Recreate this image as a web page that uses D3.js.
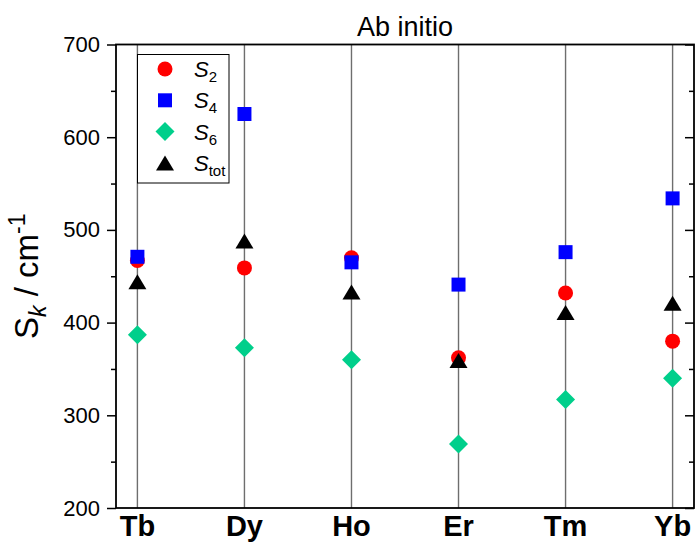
<!DOCTYPE html>
<html>
<head>
<meta charset="utf-8">
<script src="https://cdn.jsdelivr.net/npm/d3@7"></script>
<style>
  body { margin: 0; background: #fff; }
  text { font-family: "Liberation Sans", Arial, sans-serif; fill: #000; }
</style>
</head>
<body>
<svg id="chart" width="699" height="545"></svg>
<script>
"use strict";

// Values
const elements = ["Tb", "Dy", "Ho", "Er", "Tm", "Yb"];
const s2 = [467, 459, 470, 362, 432, 380];
const s4 = [471, 625, 465, 441, 476, 534];
const s6 = [387, 373, 360, 269, 317, 340];
const stot = [444, 488, 433, 359, 411, 421];
const majorTicks = [200, 300, 400, 500, 600, 700];
const minorTicks = [250, 350, 450, 550, 650];

const series = [
  {sub: "2", values: s2, color: "#ff0000", shape: "circle"},
  {sub: "4", values: s4, color: "#0000ff", shape: "square"},
  {sub: "6", values: s6, color: "#00cf8b", shape: "diamond"},
  {sub: "tot", values: stot, color: "#000000", shape: "triangle"}
];

const plotLeft = 116, plotRight = 694, plotTop = 44.5, plotBottom = 508;

const x = d3.scaleLinear().domain([-0.2, elements.length - 0.8]).range([plotLeft, plotRight]);
const y = d3.scaleLinear().domain([200, 700]).range([plotBottom, plotTop]);

const svg = d3.select("#chart");

function shapePath(shape) {
  switch (shape) {
  case "circle": {
    const p = d3.path();
    p.arc(0, 0, 7.5, 0, 2 * Math.PI);
    return p.toString();
  }
  case "square":
    return "M-7,-7H7V7H-7Z";
  case "diamond":
    return "M0,-9.5L9.5,0L0,9.5L-9.5,0Z";
  case "triangle":
    return "M0,-7.5L9,7.5L-9,7.5Z";
  }
}

// category grid lines
svg.append("g")
  .selectAll("line")
  .data(elements)
  .join("line")
  .attr("x1", (d, i) => x(i))
  .attr("x2", (d, i) => x(i))
  .attr("y1", plotTop)
  .attr("y2", plotBottom)
  .attr("stroke", "#6e6e6e")
  .attr("stroke-width", 1.4);

// y axis, left (outward ticks) and right (inward ticks)
const yLeft = svg.append("g")
  .attr("transform", `translate(${plotLeft},0)`)
  .call(d3.axisLeft(y).tickValues(majorTicks).tickSize(9).tickPadding(7).tickFormat(d3.format("d")));
yLeft.append("g")
  .call(d3.axisLeft(y).tickValues(minorTicks).tickSize(5).tickFormat(""));
yLeft.selectAll(".domain").remove();
yLeft.selectAll("line").attr("stroke", "#000").attr("stroke-width", 1.5);
yLeft.selectAll("text")
  .style("font-family", "'Liberation Sans', Arial, sans-serif")
  .style("font-size", "22px")
  .attr("fill", "#000");

const yRight = svg.append("g")
  .attr("transform", `translate(${plotRight},0)`)
  .call(d3.axisRight(y).tickValues(majorTicks).tickSize(-9).tickFormat(""));
yRight.append("g")
  .call(d3.axisRight(y).tickValues(minorTicks).tickSize(-5).tickFormat(""));
yRight.selectAll(".domain").remove();
yRight.selectAll("line").attr("stroke", "#000").attr("stroke-width", 1.5);

// frame
svg.append("rect")
  .attr("x", plotLeft).attr("y", plotTop)
  .attr("width", plotRight - plotLeft).attr("height", plotBottom - plotTop)
  .attr("fill", "none")
  .attr("stroke", "#000")
  .attr("stroke-width", 1.8);

// category labels
svg.append("g")
  .selectAll("text")
  .data(elements)
  .join("text")
  .attr("x", (d, i) => x(i))
  .attr("y", 536)
  .attr("text-anchor", "middle")
  .style("font-size", "29px")
  .style("font-weight", "bold")
  .text(d => d);

// markers
for (let s of series) {
  svg.append("g")
    .selectAll("path")
    .data(s.values)
    .join("path")
    .attr("transform", (d, i) => `translate(${x(i)},${y(d)})`)
    .attr("d", shapePath(s.shape))
    .attr("fill", s.color);
}

// legend
const legend = svg.append("g");
legend.append("rect")
  .attr("x", 137.5).attr("y", 54.5)
  .attr("width", 91.5).attr("height", 128.5)
  .attr("fill", "#fff")
  .attr("stroke", "#000")
  .attr("stroke-width", 1);
series.forEach((s, i) => {
  const ly = 69 + i * 31.3;
  legend.append("path")
    .attr("transform", `translate(165,${ly})`)
    .attr("d", shapePath(s.shape))
    .attr("fill", s.color);
  const t = legend.append("text")
    .attr("x", 194)
    .attr("y", ly + 8)
    .style("font-size", "22px");
  t.append("tspan").style("font-style", "italic").text("S");
  t.append("tspan").attr("dy", 5).style("font-size", "15px").text(s.sub);
});

// title
svg.append("text")
  .attr("x", (plotLeft + plotRight) / 2)
  .attr("y", 36)
  .attr("text-anchor", "middle")
  .style("font-size", "27px")
  .text("Ab initio");

// y axis title
const yt = svg.append("text")
  .attr("transform", `translate(38,${(plotTop + plotBottom) / 2}) rotate(-90)`)
  .attr("text-anchor", "middle")
  .style("font-size", "33px");
yt.append("tspan").text("S");
yt.append("tspan").attr("dy", 8).style("font-size", "23px").style("font-style", "italic").text("k");
yt.append("tspan").attr("dy", -8).text(" / cm");
yt.append("tspan").attr("dy", -13).style("font-size", "23px").text("-1");
</script>
</body>
</html>
